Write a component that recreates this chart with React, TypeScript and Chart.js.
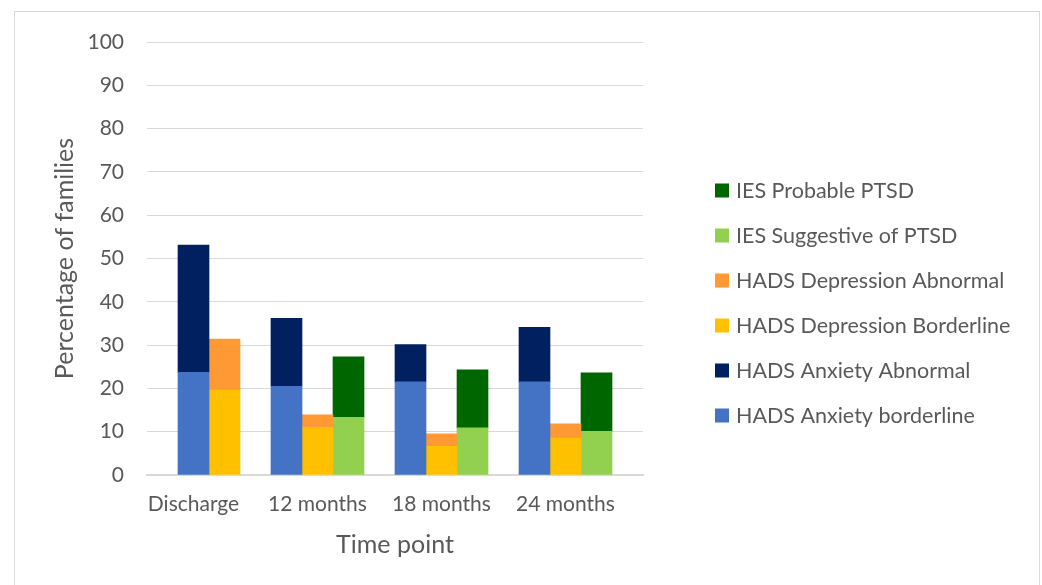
import React, { useEffect, useRef } from "react";
import { Chart, registerables } from "chart.js";

Chart.register(...registerables);

const timePoints = ["Discharge", "12 months", "18 months", "24 months"];
const anxietyBorderline = [23.7, 20.5, 21.5, 21.5];
const anxietyAbnormal = [29.4, 15.7, 8.6, 12.6];
const depressionBorderline = [19.6, 11.0, 6.6, 8.5];
const depressionAbnormal = [11.8, 2.9, 2.9, 3.3];
const iesSuggestive = [null, 13.3, 10.9, 10.1];
const iesProbable = [null, 14.0, 13.4, 13.5];
const yTicks = [0, 10, 20, 30, 40, 50, 60, 70, 80, 90, 100];

const SLOTS_PER_GROUP = 4;
const SLOT_COUNT = timePoints.length * SLOTS_PER_GROUP;

// Discharge has no IES bar; its two bars sit one slot to the right.
function slotOf(group: number, measure: number) {
  return group * SLOTS_PER_GROUP + measure + (group === 0 ? 1 : 0);
}

function toSlots(values: (number | null)[], measure: number) {
  const arr: (number | null)[] = new Array(SLOT_COUNT).fill(null);
  values.forEach((v, g) => {
    arr[slotOf(g, measure)] = v;
  });
  return arr;
}

const slotLabels: string[] = new Array(SLOT_COUNT).fill("");
timePoints.forEach((t, g) => {
  slotLabels[g * SLOTS_PER_GROUP + 1] = t;
});

const FONT = "Lato";
const TEXT = "#595959";
const TICK_SIZE = 21;
const LEGEND_SIZE = 21.5;
const TITLE_SIZE = 25;

// Legend drawn at the right, in reverse dataset order (like Excel)
const sideLegend = {
  id: "sideLegend",
  afterDraw(chart: any) {
    const { ctx, chartArea } = chart;
    const items = chart.data.datasets.map((d: any) => ({ label: d.label, color: d.backgroundColor })).reverse();
    const rowH = 45;
    const box = 14;
    const x = chartArea.right + 72;
    const center = chart.height / 2 - 1;
    const y0 = center - ((items.length - 1) * rowH) / 2;
    ctx.save();
    ctx.font = `${LEGEND_SIZE}px ${FONT}`;
    ctx.textBaseline = "middle";
    ctx.textAlign = "left";
    items.forEach((it: any, i: number) => {
      const y = y0 + i * rowH;
      ctx.fillStyle = it.color;
      ctx.fillRect(x, y - box / 2, box, box);
      ctx.fillStyle = TEXT;
      ctx.fillText(it.label, x + box + 7, y + 1);
    });
    ctx.restore();
  },
};

export default function App() {
  const ref = useRef<HTMLCanvasElement | null>(null);

  useEffect(() => {
    let chart: Chart | null = null;
    let cancelled = false;
    const make = () => {
      if (cancelled || !ref.current) return;
      chart = new Chart(ref.current, {
        type: "bar",
        data: {
          labels: slotLabels,
          datasets: [
            { label: "HADS Anxiety borderline", data: toSlots(anxietyBorderline, 0), backgroundColor: "#4472C4" },
            { label: "HADS Anxiety Abnormal", data: toSlots(anxietyAbnormal, 0), backgroundColor: "#002060" },
            { label: "HADS Depression Borderline", data: toSlots(depressionBorderline, 1), backgroundColor: "#FFC000" },
            { label: "HADS Depression Abnormal", data: toSlots(depressionAbnormal, 1), backgroundColor: "#FF9933" },
            { label: "IES Suggestive of PTSD", data: toSlots(iesSuggestive, 2), backgroundColor: "#92D050" },
            { label: "IES Probable PTSD", data: toSlots(iesProbable, 2), backgroundColor: "#006600" },
          ],
        },
        options: {
          responsive: false,
          animation: false,
          layout: { padding: { left: 35, top: 30, right: 396, bottom: 36 } },
          datasets: { bar: { barPercentage: 1, categoryPercentage: 1 } },
          plugins: {
            tooltip: { enabled: false },
            legend: { display: false },
          },
          scales: {
            x: {
              stacked: true,
              grid: { display: false, drawTicks: false },
              border: { display: true, color: "#D9D9D9", width: 2 },
              ticks: {
                autoSkip: false,
                maxRotation: 0,
                padding: 17,
                color: TEXT,
                font: { family: FONT, size: TICK_SIZE },
              },
              title: {
                display: true,
                text: "Time point",
                color: TEXT,
                font: { family: FONT, size: TITLE_SIZE },
                padding: { top: 0, bottom: 0 },
              },
              afterFit: (scale: any) => {
                scale.height = 85;
              },
            },
            y: {
              stacked: true,
              min: 0,
              max: 100,
              afterBuildTicks: (axis: any) => {
                axis.ticks = yTicks.map((v) => ({ value: v }));
              },
              grid: { color: "#D9D9D9", lineWidth: 1, drawTicks: false },
              border: { display: false },
              ticks: {
                padding: 23,
                color: TEXT,
                font: { family: FONT, size: TICK_SIZE },
              },
              title: {
                display: true,
                text: "Percentage of families",
                color: TEXT,
                font: { family: FONT, size: TITLE_SIZE },
                padding: { top: 0, bottom: 0 },
              },
              afterFit: (scale: any) => {
                scale.width = 97;
                scale.paddingTop = 0;
                scale.paddingBottom = 0;
              },
            },
          },
        },
        plugins: [sideLegend],
      });
    };
    const fonts = (document as any).fonts;
    if (fonts && fonts.load) {
      Promise.all([
        fonts.load(`${TICK_SIZE}px ${FONT}`),
        fonts.load(`${TITLE_SIZE}px ${FONT}`),
      ]).then(make, make);
    } else {
      make();
    }
    return () => {
      cancelled = true;
      if (chart) chart.destroy();
    };
  }, []);

  return (
    <div
      style={{
        position: "absolute",
        left: 14,
        top: 11,
        width: 1024,
        height: 584,
        border: "1px solid #D9D9D9",
        background: "#fff",
      }}
    >
      <canvas ref={ref} width={1024} height={584} style={{ display: "block" }} />
    </div>
  );
}
